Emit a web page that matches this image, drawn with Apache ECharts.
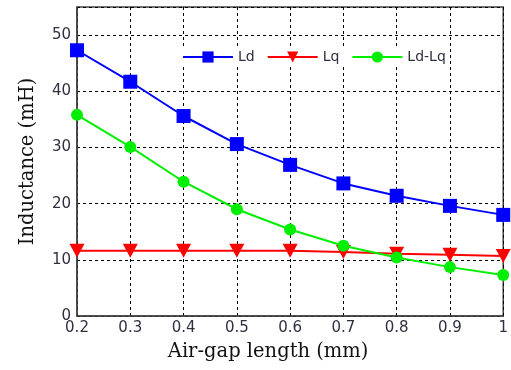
<!DOCTYPE html>
<html><head><meta charset="utf-8">
<script src="https://cdn.jsdelivr.net/npm/echarts@6/dist/echarts.min.js"></script>
<style>html,body{margin:0;padding:0;background:#fff}#c{width:511px;height:370px}</style>
</head><body><div id="c"></div>
<script>
var xValues = [0.2, 0.3, 0.4, 0.5, 0.6, 0.7, 0.8, 0.9, 1.0];
var ld = [47.3, 41.7, 35.6, 30.6, 26.9, 23.6, 21.4, 19.6, 18.0];
var lq = [11.6, 11.6, 11.6, 11.6, 11.6, 11.4, 11.1, 10.9, 10.7];
var ldlq = [35.8, 30.1, 23.9, 19.0, 15.4, 12.5, 10.4, 8.7, 7.3];
var yTicks = [0, 10, 20, 30, 40, 50];

function pairs(arr){ return xValues.map(function(x,i){ return [x, arr[i]]; }); }
var chart = echarts.init(document.getElementById('c'));
var labelColor = '#2e3040';
var dash = {color:'#000', type:[3,3], width:1};
chart.setOption({
  animation:false,
  grid:{left:77, right:5, top:7, bottom:54, show:true, borderColor:'#444', borderWidth:1.5, backgroundColor:'#fff'},
  legend:{
    top:47, left:178, itemWidth:50, itemHeight:14, itemGap:12,
    backgroundColor:'#fff', padding:[3,4],
    textStyle:{fontFamily:'DejaVu Sans', fontSize:14, color:labelColor},
    data:['Ld','Lq','Ld-Lq']
  },
  xAxis:{
    type:'value', min:0.2, max:1, interval:0.1,
    name:'Air-gap length (mm)', nameLocation:'middle', nameGap:26,
    nameTextStyle:{fontFamily:'DejaVu Serif', fontSize:19.5, color:'#111', padding:[0,44,0,0]},
    axisLine:{show:true, lineStyle:{color:'#444', width:1.5}},
    axisTick:{show:false},
    axisLabel:{fontFamily:'DejaVu Sans', fontSize:15, color:labelColor, margin:5,
      formatter:function(v){ return Math.abs(v-1)<1e-9 ? '1' : v.toFixed(1); }},
    splitLine:{show:true, lineStyle:dash}
  },
  yAxis:{
    type:'value', min:0, max:55, interval:10,
    name:'Inductance (mH)', nameLocation:'middle', nameGap:39,
    nameTextStyle:{fontFamily:'DejaVu Serif', fontSize:19.5, color:'#111'},
    axisLine:{show:true, lineStyle:{color:'#444', width:1.5}},
    axisTick:{show:false},
    axisLabel:{fontFamily:'DejaVu Sans', fontSize:15, color:labelColor, margin:6, showMaxLabel:false,
      formatter:function(v){ return yTicks.indexOf(v)>=0 ? String(v) : ''; }},
    splitLine:{show:true, lineStyle:dash}
  },
  series:[
    {name:'Ld', type:'line', data:pairs(ld), symbol:'rect', symbolSize:14,
      itemStyle:{color:'#0000ff'}, lineStyle:{color:'#0000ff', width:2}, z:3},
    {name:'Lq', type:'line', data:pairs(lq), symbol:'triangle', symbolRotate:180, symbolSize:[15,14],
      itemStyle:{color:'#ff0000'}, lineStyle:{color:'#ff0000', width:2}, z:2},
    {name:'Ld-Lq', type:'line', data:pairs(ldlq), symbol:'circle', symbolSize:12,
      itemStyle:{color:'#00ee00'}, lineStyle:{color:'#00ee00', width:2}, z:4}
  ]
});
</script></body></html>
